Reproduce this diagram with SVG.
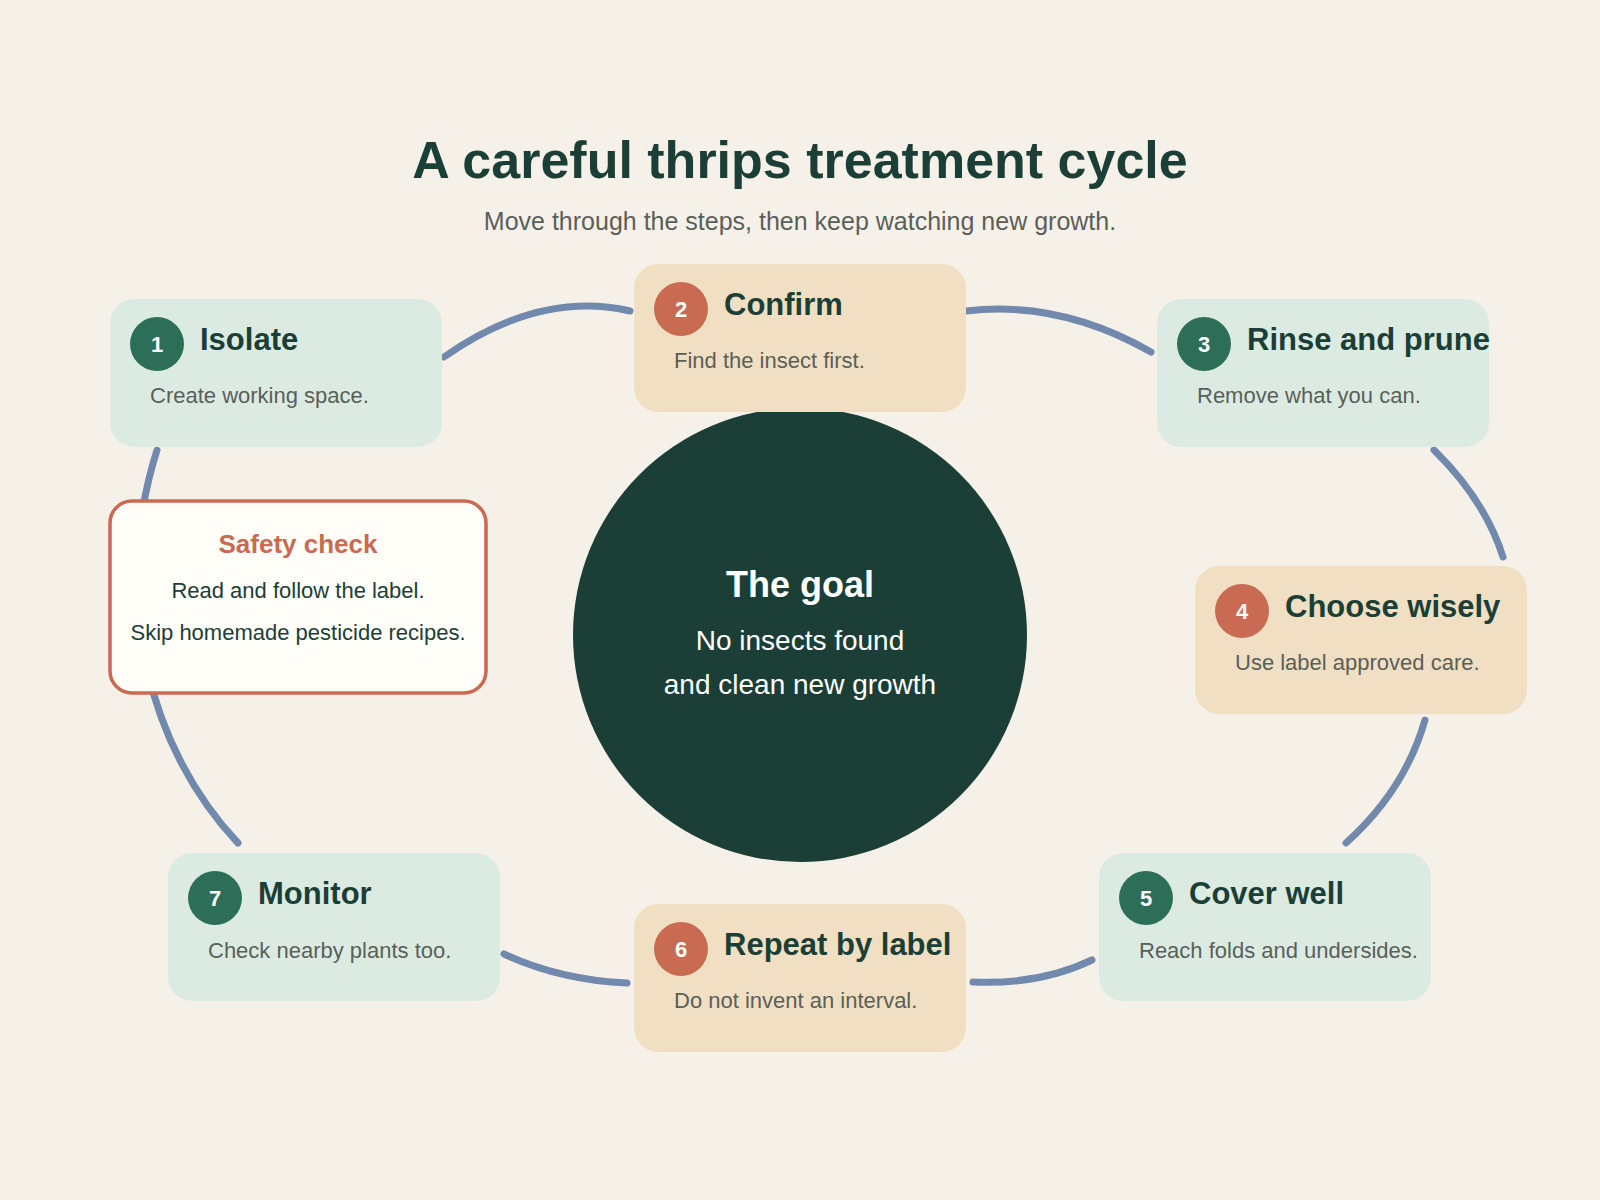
<svg xmlns="http://www.w3.org/2000/svg" width="1600" height="1200" viewBox="0 0 1600 1200">
<style>
text{font-family:"Liberation Sans",Arial,sans-serif}
.g{fill:#dcebe2}.t{fill:#f0dfc2}
.h{font-size:31px;font-weight:bold;fill:#1b3f36}
.s{font-size:22px;fill:#5a5f5a}
.bn{font-size:22px;font-weight:bold;fill:#fff;text-anchor:middle}
.c{fill:none;stroke:#7089ad;stroke-width:7;stroke-linecap:round}
</style>
<rect width="1600" height="1200" fill="#f6f1e8"/>
<text x="800" y="178" text-anchor="middle" font-size="52" font-weight="bold" fill="#1b3f36">A careful thrips treatment cycle</text>
<text x="800" y="230" text-anchor="middle" font-size="25" fill="#5a5f5a">Move through the steps, then keep watching new growth.</text>
<g id="connectors">
<path class="c" d="M444 357 Q540 290 630 311"/>
<path class="c" d="M966 311 Q1060 300 1151 352"/>
<path class="c" d="M1434 450 Q1485 500 1503 557"/>
<path class="c" d="M1425 720 Q1405 790 1346 843"/>
<path class="c" d="M1092 960 Q1040 985 973 982"/>
<path class="c" d="M627 983 Q560 980 504 954"/>
<path class="c" d="M238 843 C150 750 110 600 157 450"/>
</g>
<g id="goal"><circle cx="800" cy="635" r="227" fill="#1b3f36"/>
<text x="800" y="597" text-anchor="middle" font-size="36" font-weight="bold" fill="#fff">The goal</text>
<text x="800" y="650" text-anchor="middle" font-size="28" fill="#fff">No insects found</text>
<text x="800" y="694" text-anchor="middle" font-size="28" fill="#fff">and clean new growth</text></g>
<g id="n1"><rect class="g" x="110" y="299" width="332" height="148" rx="24"/><circle cx="157" cy="344" r="27" fill="#2d6e59"/><text class="bn" x="157" y="352">1</text><text class="h" x="200" y="350">Isolate</text><text class="s" x="150" y="403">Create working space.</text></g>
<g id="n2"><rect class="t" x="634" y="264" width="332" height="148" rx="24"/><circle cx="681" cy="309" r="27" fill="#c96a52"/><text class="bn" x="681" y="317">2</text><text class="h" x="724" y="315">Confirm</text><text class="s" x="674" y="368">Find the insect first.</text></g>
<g id="n3"><rect class="g" x="1157" y="299" width="332" height="148" rx="24"/><circle cx="1204" cy="344" r="27" fill="#2d6e59"/><text class="bn" x="1204" y="352">3</text><text class="h" x="1247" y="350">Rinse and prune</text><text class="s" x="1197" y="403">Remove what you can.</text></g>
<g id="n4"><rect class="t" x="1195" y="566" width="332" height="148" rx="24"/><circle cx="1242" cy="611" r="27" fill="#c96a52"/><text class="bn" x="1242" y="619">4</text><text class="h" x="1285" y="617">Choose wisely</text><text class="s" x="1235" y="670">Use label approved care.</text></g>
<g id="n5"><rect class="g" x="1099" y="853" width="332" height="148" rx="24"/><circle cx="1146" cy="898" r="27" fill="#2d6e59"/><text class="bn" x="1146" y="906">5</text><text class="h" x="1189" y="904">Cover well</text><text class="s" x="1139" y="958">Reach folds and undersides.</text></g>
<g id="n6"><rect class="t" x="634" y="904" width="332" height="148" rx="24"/><circle cx="681" cy="949" r="27" fill="#c96a52"/><text class="bn" x="681" y="957">6</text><text class="h" x="724" y="955">Repeat by label</text><text class="s" x="674" y="1008">Do not invent an interval.</text></g>
<g id="n7"><rect class="g" x="168" y="853" width="332" height="148" rx="24"/><circle cx="215" cy="898" r="27" fill="#2d6e59"/><text class="bn" x="215" y="906">7</text><text class="h" x="258" y="904">Monitor</text><text class="s" x="208" y="958">Check nearby plants too.</text></g>
<g id="safety"><rect x="110" y="501" width="376" height="192" rx="22" fill="#fffdf8" stroke="#c96a52" stroke-width="3.5"/>
<text x="298" y="553" text-anchor="middle" font-size="26" font-weight="bold" fill="#c96a52">Safety check</text>
<text x="298" y="598" text-anchor="middle" font-size="22" fill="#1b3f36">Read and follow the label.</text>
<text x="298" y="640" text-anchor="middle" font-size="22" fill="#1b3f36">Skip homemade pesticide recipes.</text></g>
</svg>
